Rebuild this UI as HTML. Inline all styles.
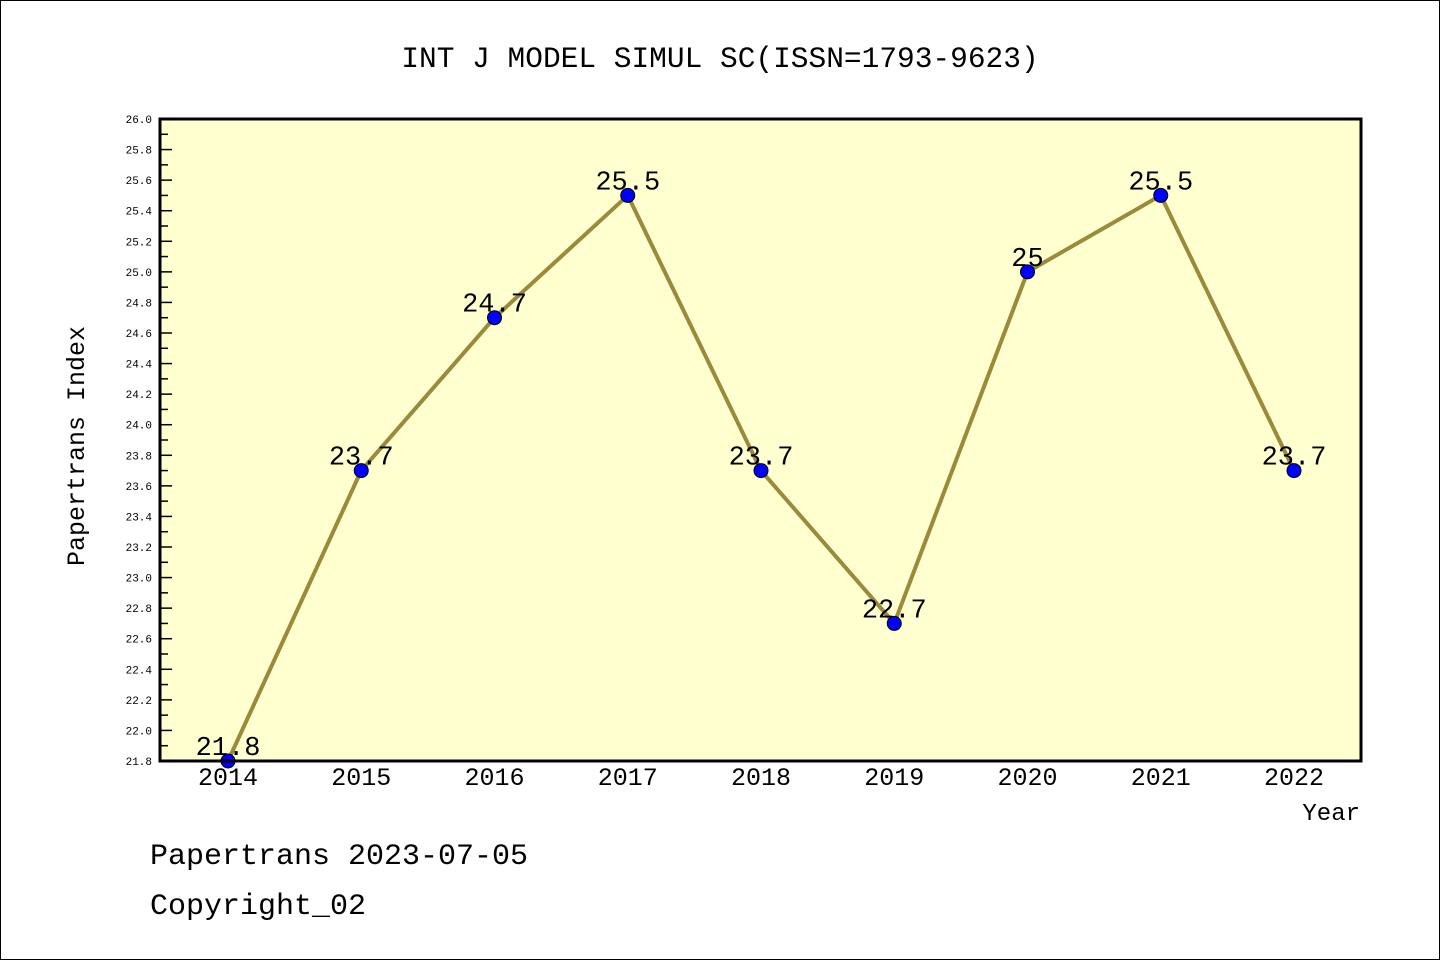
<!DOCTYPE html>
<html><head><meta charset="utf-8"><style>
html,body{margin:0;padding:0;background:#fff}
svg{display:block}
text{font-family:"Liberation Mono","DejaVu Sans Mono",monospace}
</style></head><body>
<svg id="chart" width="1440" height="960" xmlns="http://www.w3.org/2000/svg">
<rect x="0.5" y="0.5" width="1439" height="959" fill="#fff" stroke="#000"/>
<text x="720" y="67" font-size="29.5" text-anchor="middle">INT J MODEL SIMUL SC(ISSN=1793-9623)</text>
<rect x="160" y="119" width="1201" height="642" fill="#ffffd0"/>
<g id="yticks"></g>
<g id="xticks"></g>
<g id="series"></g>
<rect x="160" y="119" width="1201" height="642" fill="none" stroke="#000" stroke-width="3"/>
<text x="84" y="446" font-size="25" text-anchor="middle" transform="rotate(-90 84 446)">Papertrans Index</text>
<text x="1360" y="820" font-size="24" text-anchor="end">Year</text>
<text x="150" y="864" font-size="30">Papertrans 2023-07-05</text>
<text x="150" y="914" font-size="30">Copyright_02</text>
</svg>
<script>
const categories = ["2014","2015","2016","2017","2018","2019","2020","2021","2022"];
const values = [21.8, 23.7, 24.7, 25.5, 23.7, 22.7, 25.0, 25.5, 23.7];
const valueLabels = ["21.8","23.7","24.7","25.5","23.7","22.7","25","25.5","23.7"];
const yTickLabels = ["21.8","22.0","22.2","22.4","22.6","22.8","23.0","23.2","23.4","23.6","23.8","24.0","24.2","24.4","24.6","24.8","25.0","25.2","25.4","25.6","25.8","26.0"];
const NS="http://www.w3.org/2000/svg";
const yMin=21.8,yMax=26.0,plotTop=119,plotBottom=761,plotLeft=160;
const yScale=v=>plotBottom-(v-yMin)/(yMax-yMin)*(plotBottom-plotTop);
const xScale=i=>228+i*133.25;
function mk(t,a,p){const e=document.createElementNS(NS,t);for(const k in a)e.setAttribute(k,a[k]);p.appendChild(e);return e;}
const yt=document.getElementById('yticks');
yTickLabels.forEach(s=>{const v=parseFloat(s),yy=yScale(v);
 const l=mk('line',{x1:plotLeft,x2:plotLeft+12,y1:yy,y2:yy,stroke:'#000','stroke-width':1.5},yt);
 
 
 if(v+0.1<yMax){
  const m=mk('line',{x1:plotLeft,x2:plotLeft+8,y1:yScale(v+0.1),y2:yScale(v+0.1),stroke:'#000','stroke-width':1.5},yt);
  
  
 }
 const t=mk('text',{x:152,y:yy+4,'font-size':11,'text-anchor':'end'},yt);t.textContent=s;
 
 
});
const xt=document.getElementById('xticks');
categories.forEach((c,i)=>{const t=mk('text',{x:xScale(i),y:785,'font-size':25,'text-anchor':'middle'},xt);t.textContent=c;
 
 });
const sg=document.getElementById('series');
const pl=mk('polyline',{points:values.map((v,i)=>xScale(i)+','+yScale(v)).join(' '),fill:'none',stroke:'#9a8a3a','stroke-width':4,'stroke-linejoin':'round'},sg);


values.forEach((v,i)=>{
 const c=mk('circle',{cx:xScale(i),cy:yScale(v),r:7,fill:'#0000ff',stroke:'#000','stroke-width':1},sg);
 
 
});
values.forEach((v,i)=>{
 const t=mk('text',{x:xScale(i),y:yScale(v)-6,'font-size':27,'text-anchor':'middle'},sg);t.textContent=valueLabels[i];
 
 
});
</script>
</body></html>
